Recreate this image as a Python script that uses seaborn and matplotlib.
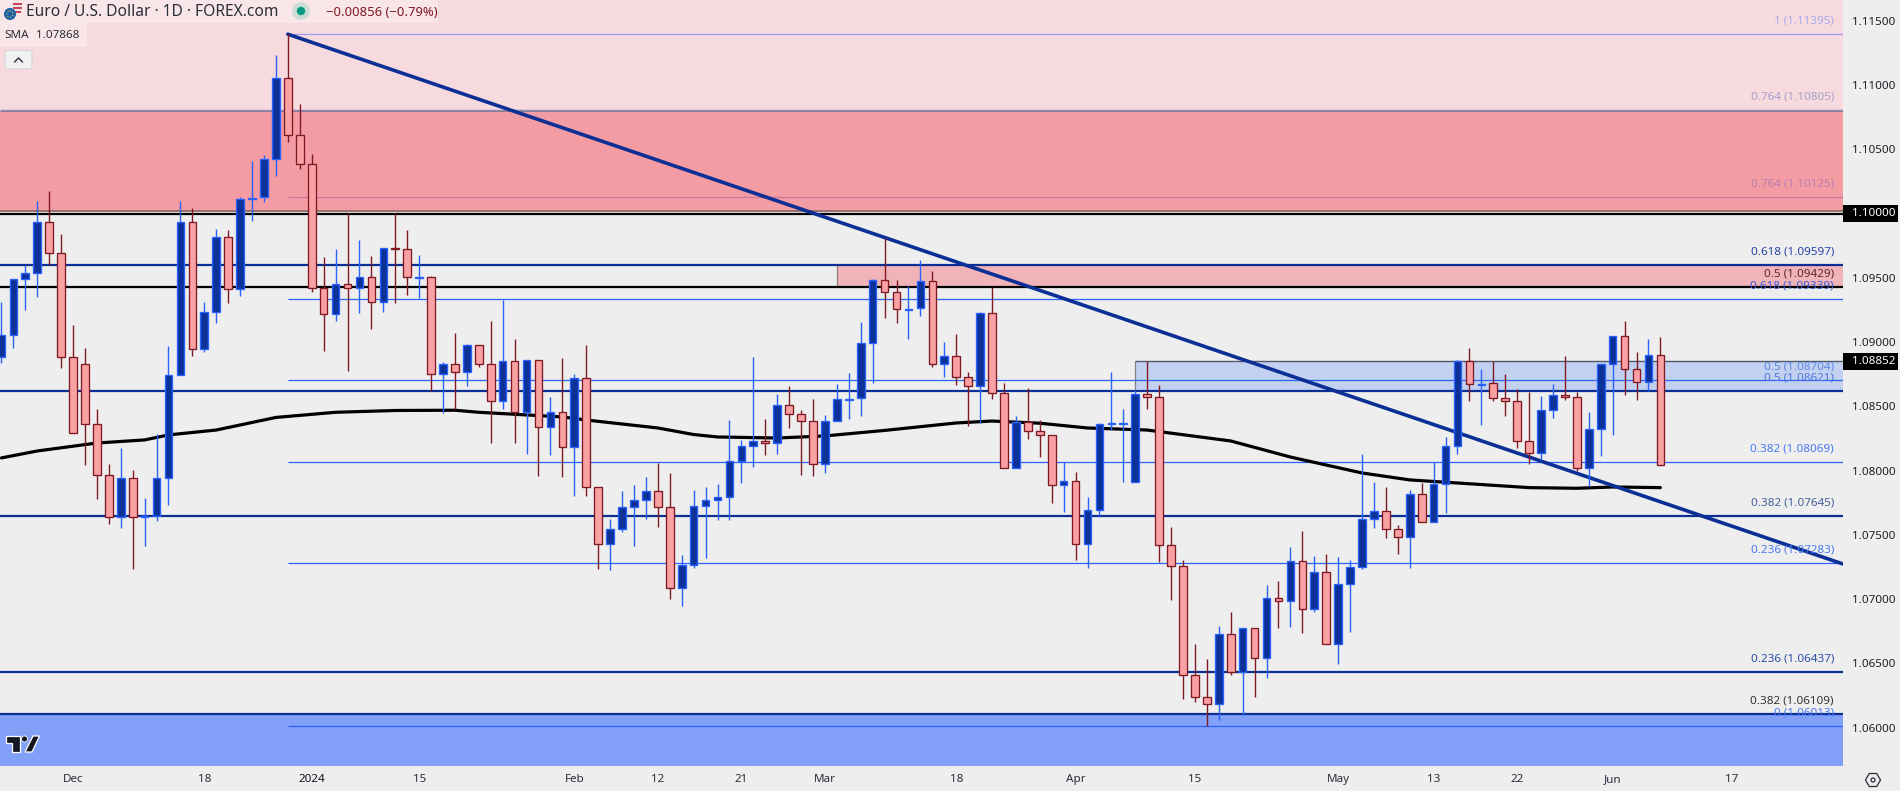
import pandas as pd
import numpy as np
import matplotlib
matplotlib.use("Agg")
import matplotlib.pyplot as plt
import seaborn as sns
from matplotlib.patches import Rectangle, Circle, Polygon, RegularPolygon, FancyBboxPatch

# EUR/USD daily candles
opens = [
    1.08882,1.09053,1.09489,1.09535,1.09932,1.09691,1.08882,1.08828,1.08361,1.07964,
    1.07637,1.07941,1.07636,1.07645,1.07941,1.08742,1.09932,1.08944,1.09232,1.09815,
    1.09411,1.10113,1.10126,1.10422,1.11052,1.10609,1.10383,1.09419,1.09216,1.09450,
    1.09419,1.09504,1.09310,1.09730,1.09722,1.09500,1.09504,1.08750,1.08828,1.08765,
    1.08975,1.08828,1.08540,1.08851,1.08454,1.08859,1.08337,1.08454,1.08182,1.08719,
    1.07871,1.07427,1.07544,1.07715,1.07770,1.07840,1.07715,1.07085,1.07264,1.07723,
    1.07770,1.07793,1.08073,1.08190,1.08229,1.08213,1.08509,1.08439,1.08384,1.08050,
    1.08384,1.08553,1.08563,1.08991,1.09481,1.09387,1.09250,1.09263,1.09473,1.08828,
    1.08890,1.08726,1.08656,1.09224,1.08602,1.08019,1.08376,1.08306,1.08275,1.07886,
    1.07917,1.07427,1.07692,1.08361,1.08365,1.07910,1.08594,1.08571,1.07420,1.07256,
    1.06409,1.06237,1.06183,1.06727,1.06432,1.06774,1.06541,1.07007,1.06984,1.07295,
    1.06922,1.07210,1.06650,1.07116,1.07249,1.07622,1.07684,1.07544,1.07482,1.07816,
    1.07599,1.07894,1.08190,1.08851,1.08670,1.08680,1.08563,1.08540,1.08229,1.08140,
    1.08470,1.08586,1.08571,1.08019,1.08322,1.08828,1.09045,1.08789,1.08688,1.08902,
]
closes = [
    1.09053,1.09489,1.09535,1.09932,1.09691,1.08882,1.08291,1.08361,1.07964,1.07637,
    1.07941,1.07637,1.07644,1.07941,1.08742,1.09932,1.08944,1.09232,1.09815,1.09411,
    1.10111,1.10123,1.10422,1.11052,1.10609,1.10383,1.09419,1.09216,1.09450,1.09419,
    1.09504,1.09310,1.09730,1.09726,1.09504,1.09506,1.08750,1.08828,1.08765,1.08975,
    1.08828,1.08540,1.08851,1.08454,1.08859,1.08337,1.08454,1.08182,1.08719,1.07871,
    1.07427,1.07544,1.07715,1.07770,1.07840,1.07715,1.07085,1.07264,1.07723,1.07770,
    1.07793,1.08073,1.08190,1.08229,1.08213,1.08509,1.08439,1.08384,1.08050,1.08384,
    1.08555,1.08560,1.08991,1.09481,1.09387,1.09255,1.09258,1.09473,1.08828,1.08890,
    1.08726,1.08656,1.09224,1.08602,1.08019,1.08376,1.08306,1.08275,1.07886,1.07917,
    1.07427,1.07692,1.08361,1.08368,1.08370,1.08594,1.08571,1.07420,1.07256,1.06409,
    1.06237,1.06183,1.06727,1.06432,1.06774,1.06541,1.07007,1.06984,1.07295,1.06922,
    1.07210,1.06650,1.07116,1.07249,1.07622,1.07684,1.07544,1.07482,1.07816,1.07599,
    1.07894,1.08190,1.08851,1.08672,1.08676,1.08563,1.08540,1.08229,1.08140,1.08470,
    1.08586,1.08571,1.08019,1.08322,1.08828,1.09045,1.08789,1.08688,1.08898,1.08046,
]
highs = [
    1.09312,1.09489,1.09598,1.10098,1.10175,1.09841,1.09133,1.08954,1.08480,1.08052,
    1.08176,1.08005,1.07788,1.08285,1.08970,1.10098,1.10041,1.09312,1.09880,1.09872,
    1.10126,1.10409,1.10455,1.11233,1.11395,1.10852,1.10463,1.09662,1.09724,1.10002,
    1.09794,1.09670,1.09730,1.10002,1.09872,1.09678,1.09514,1.08843,1.09073,1.08983,
    1.08975,1.09164,1.09328,1.09024,1.08859,1.08859,1.08573,1.08876,1.08754,1.08978,
    1.07871,1.07624,1.07842,1.07889,1.07951,1.08060,1.07982,1.07344,1.07850,1.07873,
    1.07896,1.08394,1.08239,1.08884,1.08402,1.08596,1.08659,1.08472,1.08558,1.08433,
    1.08674,1.08760,1.09157,1.09491,1.09810,1.09483,1.09437,1.09639,1.09553,1.09001,
    1.09063,1.08768,1.09234,1.09429,1.08682,1.08425,1.08643,1.08394,1.08275,1.08068,
    1.07990,1.07798,1.08369,1.08768,1.08480,1.08628,1.08851,1.08666,1.07562,1.07303,
    1.06652,1.06535,1.06792,1.06899,1.06774,1.06774,1.07111,1.07142,1.07406,1.07531,
    1.07336,1.07352,1.07329,1.07305,1.08130,1.07912,1.07873,1.07578,1.07850,1.07904,
    1.08068,1.08262,1.08861,1.08954,1.08791,1.08853,1.08752,1.08635,1.08612,1.08581,
    1.08674,1.08892,1.08612,1.08457,1.08828,1.09045,1.09164,1.08923,1.09024,1.09040,
]
lows = [
    1.08840,1.08954,1.09250,1.09353,1.09600,1.08801,1.08291,1.08044,1.07782,1.07585,
    1.07557,1.07238,1.07417,1.07611,1.07733,1.08742,1.08894,1.08926,1.09151,1.09307,
    1.09361,1.09944,1.10092,1.10294,1.10559,1.10349,1.09392,1.08933,1.09167,1.08778,
    1.09229,1.09104,1.09237,1.09307,1.09369,1.09341,1.08622,1.08451,1.08477,1.08661,
    1.08807,1.08218,1.08480,1.08218,1.08130,1.07959,1.08122,1.07953,1.07805,1.07805,
    1.07238,1.07230,1.07525,1.07417,1.07627,1.07564,1.07004,1.06950,1.07245,1.07323,
    1.07619,1.07619,1.07904,1.08031,1.08122,1.08130,1.08332,1.07966,1.07959,1.07982,
    1.08384,1.08402,1.08425,1.08682,1.09188,1.09149,1.09024,1.09203,1.08807,1.08729,
    1.08666,1.08350,1.08371,1.08558,1.08019,1.08019,1.08246,1.08106,1.07751,1.07681,
    1.07305,1.07245,1.07637,1.08316,1.07912,1.07910,1.08480,1.07292,1.06997,1.06227,
    1.06203,1.06014,1.06061,1.06411,1.06100,1.06240,1.06388,1.06776,1.06784,1.06738,
    1.06901,1.06650,1.06496,1.06745,1.07235,1.07554,1.07476,1.07352,1.07243,1.07599,
    1.07599,1.07673,1.08130,1.08542,1.08355,1.08542,1.08425,1.08176,1.08052,1.08083,
    1.08410,1.08550,1.07998,1.07881,1.08114,1.08278,1.08589,1.08550,1.08620,1.08046,
]

# 200 day SMA
sma_idx = [0,3,8,12,14,18,23,28,33,38,40,47,49,55,58,60,65,69,74,80,83,87,91,96,103,108,114,118,122,128,132,135,139]
sma_val = [1.08099,1.08153,1.08215,1.08239,1.08278,1.08316,1.08414,1.08454,1.08468,1.08470,1.08454,
           1.08418,1.08394,1.08332,1.08281,1.08262,1.08254,1.08270,1.08313,1.08371,1.08386,1.08369,
           1.08332,1.08316,1.08231,1.08106,1.07982,1.07928,1.07904,1.07868,1.07863,1.07873,1.07868]

# trendline from the December high to the right edge
trend_idx = [24, 154.3]
trend_val = [1.11395, 1.07274]

# fib levels: thin ones start at the high candle, thick ones run the whole width
thin_levels = [1.09339, 1.08704, 1.08069, 1.07283, 1.06013]
thick_levels = [1.09597, 1.08621, 1.07645, 1.06437, 1.06109]
black_levels = [1.10000, 1.09429]

fib_labels = ["1 (1.11395)", "0.764 (1.10805)", "0.764 (1.10125)", "0.618 (1.09597)", "0.5 (1.09429)",
              "0.618 (1.09339)", "0.5 (1.08704)", "0.5 (1.08621)", "0.382 (1.08069)", "0.382 (1.07645)",
              "0.236 (1.07283)", "0.236 (1.06437)", "0.382 (1.06109)", "0 (1.06013)"]
fib_prices = [1.11395, 1.10805, 1.10125, 1.09597, 1.09429, 1.09339, 1.08704, 1.08621, 1.08069, 1.07645,
              1.07283, 1.06437, 1.06109, 1.06013]
fib_colors = ["#a9aaf0", "#a79fc9", "#b97fae", "#2443a8", "#5c2a30", "#3d5ad8", "#5f86ea", "#4f78e0", "#4a7af0",
              "#44609c", "#4a7af0", "#2c4fa8", "#333333", "#4a7af0"]

y_ticks = [1.06, 1.065, 1.07, 1.075, 1.08, 1.085, 1.09, 1.095, 1.105, 1.11, 1.115]
x_tick_idx = [6, 17, 26, 35, 48, 55, 62, 69, 80, 90, 100, 112, 120, 127, 135, 145]
x_tick_labels = ["Dec", "18", "2024", "15", "Feb", "12", "21", "Mar", "18", "Apr", "15", "May", "13", "22", "Jun", "17"]

BG = "#eeeeee"
UP_FILL, UP_EDGE = "#0c3299", "#2962ff"
DOWN_FILL, DOWN_EDGE = "#faa1a4", "#801922"
NAVY = "#0c2f96"

sns.set_theme(style="white")
plt.rcParams["font.family"] = ["Noto Sans", "DejaVu Sans"]

df = pd.DataFrame({"idx": np.arange(len(opens)), "open": opens, "high": highs, "low": lows, "close": closes})
df["body"] = (df["close"] - df["open"]).abs()
df["base"] = df[["open", "close"]].min(axis=1)
up = df[df["close"] >= df["open"]]
down = df[df["close"] < df["open"]]

fig = plt.figure(figsize=(19, 7.91), dpi=100, facecolor=BG)
ax = fig.add_axes([0, 25.3 / 791, 1843 / 1900, 765.7 / 791], facecolor=BG)

xmin, xmax = -0.117, 154.3
ymin, ymax = 1.05705, 1.11661

# zones
ax.fill_between([xmin, xmax], 1.10805, ymax, color="#f6dade", lw=0, zorder=1)
ax.fill_between([xmin, xmax], 1.10010, 1.10797, color="#f49ca4", lw=0, zorder=1)
ax.fill_between([70, xmax], 1.09429, 1.09597, color="#f0b3b8", lw=0, zorder=1)
ax.fill_between([95, xmax], 1.08621, 1.08852, color="#c3d1f0", lw=0, zorder=1)
ax.fill_between([xmin, xmax], ymin, 1.06109, color="#82a0f8", lw=0, zorder=1)
ax.hlines(1.10795, xmin, xmax, color="#8a7a7a", lw=0.7, zorder=1.5)
ax.hlines(1.10020, xmin, xmax, color="#8a6a6a", lw=1.2, zorder=1.5)
ax.hlines(1.08852, 95, xmax, color="#50586a", lw=1.0, zorder=1.5)
ax.vlines(95, 1.08621, 1.08852, color="#80808a", lw=0.9, zorder=1.5)
ax.vlines(70, 1.09429, 1.09597, color="#8a8080", lw=0.9, zorder=1.5)
ax.hlines(1.10805, xmin, xmax, color="#9088c0", lw=1.0, zorder=1.6)

# fib lines
ax.hlines(1.11395, 24, xmax, color="#9b9cf0", lw=0.9, zorder=2)
ax.hlines(1.10125, 24, xmax, color="#c878a0", lw=0.9, zorder=2)
ax.hlines(thin_levels, 24, xmax, color=UP_EDGE, lw=0.9, zorder=2)
ax.hlines(thick_levels, xmin, xmax, color=NAVY, lw=1.6, zorder=2.5)
ax.hlines(black_levels, xmin, xmax, color="black", lw=1.6, zorder=2.5)

sns.lineplot(x=sma_idx, y=sma_val, color="black", lw=2.3, errorbar=None, ax=ax, zorder=3)
sns.lineplot(x=trend_idx, y=trend_val, color=NAVY, lw=2.6, errorbar=None, ax=ax, zorder=3.5)

# wicks
ax.vlines(up["idx"], up["low"], up["high"], color=UP_EDGE, lw=1.0, zorder=4)
ax.vlines(down["idx"], down["low"], down["high"], color=DOWN_EDGE, lw=1.0, zorder=4)

# candle bodies
sns.barplot(data=up, x="idx", y="body", bottom=up["base"].values, native_scale=True, width=0.64, color=UP_FILL,
            saturation=1, edgecolor=UP_EDGE, linewidth=0.95, errorbar=None, ax=ax, zorder=5)
sns.barplot(data=down, x="idx", y="body", bottom=down["base"].values, native_scale=True, width=0.64, color=DOWN_FILL,
            saturation=1, edgecolor=DOWN_EDGE, linewidth=0.95, errorbar=None, ax=ax, zorder=5)

ax.set_xlim(xmin, xmax)
ax.set_ylim(ymin, ymax)
ax.set_xlabel("")
ax.set_ylabel("")
sns.despine(ax=ax, left=True, bottom=True)

ax.yaxis.tick_right()
ax.set_yticks(y_ticks, [f"{v:.5f}" for v in y_ticks])
ax.set_xticks(x_tick_idx, x_tick_labels)
ax.tick_params(axis="y", length=0, pad=6.2, labelsize=8.4, labelcolor="#1c1f26")
ax.tick_params(axis="x", length=0, pad=6.0, labelsize=8.4, labelcolor="#2a2e39")
for lab in ax.get_xticklabels():
    if lab.get_text() == "2024":
        lab.set_fontweight("bold")
        lab.set_color("#131722")

# fib labels sit 13 px above their level
for txt, p, col in zip(fib_labels, fib_prices, fib_colors):
    ax.annotate(txt, xy=(xmax, p), xytext=(-9, 13), textcoords="offset pixels", ha="right", va="center",
                color=col, fontsize=8.4, zorder=6)

# price boxes on the right axis
for p, txt in [(1.10000, "1.10000"), (1.08852, "1.08852")]:
    ax.add_patch(Rectangle((1.0, p - 8.5 / 12856), 55 / 1843, 17 / 12856, transform=ax.get_yaxis_transform(),
                           fc="black", ec="none", clip_on=False, zorder=7))
    ax.annotate(txt, xy=(1.0, p), xycoords=("axes fraction", "data"), xytext=(8.7, 0), textcoords="offset pixels",
                ha="left", va="center", color="white", fontsize=8.4, annotation_clip=False, zorder=8)

# chart furniture in pixel coordinates
ov = fig.add_axes([0, 0, 1, 1], facecolor="none")
ov.set_xlim(0, 1900)
ov.set_ylim(791, 0)
ov.axis("off")
ov.add_patch(Rectangle((0, 0), 438, 23, fc="white", alpha=0.35, ec="none"))
ov.add_patch(Rectangle((0, 23), 87, 24, fc="white", alpha=0.35, ec="none"))
ov.text(26, 12, "Euro / U.S. Dollar · 1D · FOREX.com", fontsize=11.2, color="#2a2e39", va="center", ha="left")
ov.text(326, 12, "−0.00856 (−0.79%)", fontsize=9.4, color="#801922", va="center", ha="left")
ov.text(4, 35.5, "SMA", fontsize=8.4, color="#2a2e39", va="center", ha="left")
ov.text(36, 35.5, "1.07868", fontsize=8.4, color="#2a2e39", va="center", ha="left")
ov.add_patch(Circle((301, 11), 8.8, fc="#c9dcd6", ec="none"))
ov.add_patch(Circle((301, 11), 4.2, fc="#089981", ec="none"))
# flags
ov.add_patch(Circle((16, 8), 6, fc="#e8e8f0", ec="none"))
ov.add_patch(Rectangle((13, 3), 9, 1.6, fc="#d04050", ec="none"))
ov.add_patch(Rectangle((13, 7), 9, 1.6, fc="#d04050", ec="none"))
ov.add_patch(Rectangle((13, 11), 8, 1.6, fc="#d04050", ec="none"))
ov.add_patch(Circle((10, 14), 6, fc="#1c5fa8", ec="none"))
ov.add_patch(Circle((10, 14), 3.2, fc="none", ec="#e8c840", lw=0.8, ls=":"))
# collapse button
ov.add_patch(FancyBboxPatch((5, 50.5), 27, 18.5, boxstyle="round,pad=0,rounding_size=2", fc="#f1f1f1", ec="#d3d6dc", lw=0.8))
ov.plot([14.5, 18.5, 22.5], [62, 58, 62], color="#2a2e39", lw=1.0)
# logo
for poly in [[(5.5, 736), (20, 736), (20, 752), (12, 752), (12, 743), (5.5, 743)], [(33, 736), (39.5, 736), (32, 752), (25, 752)]]:
    ov.add_patch(Polygon(poly, closed=True, fc="#131722", ec="white", lw=0.9))
ov.add_patch(Circle((24.5, 739), 3, fc="#131722", ec="white", lw=0.6))
# settings icon
ov.add_patch(RegularPolygon((1873, 780), 6, radius=7.5, orientation=np.pi / 2, fc="none", ec="#2a2e39", lw=0.9))
ov.add_patch(Circle((1873, 780), 2, fc="none", ec="#2a2e39", lw=0.9))

fig.savefig("out.png", dpi=100, facecolor=BG)
